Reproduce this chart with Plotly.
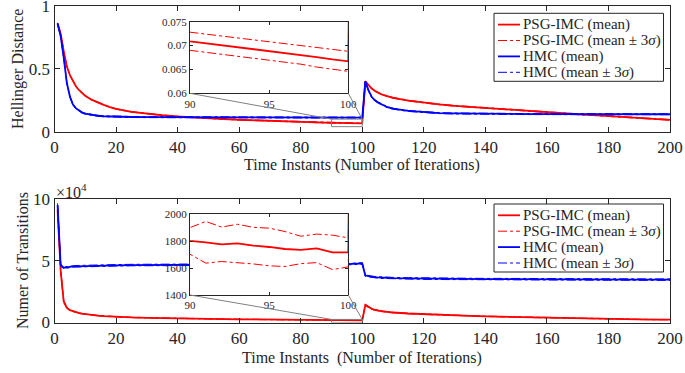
import plotly.graph_objects as go

W, H = 685, 373
OFF = 0  # body margin is removed by the post script below

# ---------------- data ----------------
X = [1, 2, 3, 4, 5, 6, 7, 8, 9, 10,
     12, 14, 16, 18, 20,
     25, 30, 35, 40, 45, 50, 55, 60, 65, 70, 75, 80, 85,
     90, 91, 92, 93, 94, 95, 96, 97, 98, 99, 100,
     101, 102, 103, 104, 105, 106, 107, 108, 109, 110,
     115, 120, 125, 130, 135, 140, 145, 150, 155, 160, 165, 170, 175, 180, 185, 190, 195, 200]

# Hellinger distance
HD_PSG_MEAN = [0.86, 0.78, 0.64, 0.52, 0.45, 0.40, 0.36, 0.33, 0.305, 0.285,
               0.255, 0.232, 0.213, 0.196, 0.181,
               0.158, 0.143, 0.131, 0.121, 0.113, 0.106, 0.100, 0.095, 0.090, 0.086, 0.082, 0.078, 0.074,
               0.0709, 0.0705, 0.0701, 0.0697, 0.0693, 0.0689, 0.0685, 0.0681, 0.0676, 0.0671, 0.0667,
               0.400, 0.370, 0.345, 0.326, 0.311, 0.300, 0.291, 0.283, 0.276, 0.270,
               0.247, 0.230, 0.217, 0.206, 0.197, 0.189, 0.180, 0.171, 0.162, 0.154, 0.146, 0.139,
               0.132, 0.125, 0.117, 0.109, 0.101, 0.094]
HD_PSG_3SIG = [0.004, 0.004, 0.004, 0.003, 0.003, 0.003, 0.003, 0.003, 0.003, 0.003,
               0.003, 0.003, 0.002, 0.002, 0.002,
               0.002, 0.002, 0.002, 0.002, 0.002, 0.002, 0.002, 0.002, 0.002, 0.002, 0.002, 0.002, 0.002,
               0.0019, 0.0019, 0.0019, 0.0020, 0.0020, 0.0020, 0.0020, 0.0020, 0.0021, 0.0021, 0.0021,
               0.004, 0.004, 0.003, 0.003, 0.003, 0.003, 0.003, 0.003, 0.003, 0.003,
               0.003, 0.003, 0.003, 0.003, 0.003, 0.003, 0.003, 0.003, 0.003, 0.003, 0.003, 0.003,
               0.003, 0.003, 0.003, 0.003, 0.003, 0.003]
HD_HMC_MEAN = [0.86, 0.76, 0.59, 0.39, 0.28, 0.215, 0.185, 0.165, 0.152, 0.143,
               0.133, 0.127, 0.123, 0.121, 0.119,
               0.117, 0.116, 0.116, 0.115, 0.115, 0.115, 0.114, 0.114, 0.114, 0.114, 0.113, 0.113, 0.113,
               0.113, 0.112, 0.113, 0.113, 0.112, 0.113, 0.112, 0.112, 0.113, 0.112, 0.112,
               0.400, 0.330, 0.280, 0.252, 0.234, 0.220, 0.207, 0.197, 0.189, 0.183,
               0.165, 0.154, 0.148, 0.145, 0.143, 0.142, 0.141, 0.141, 0.140, 0.140, 0.140, 0.140,
               0.140, 0.139, 0.139, 0.139, 0.139, 0.139]
HD_HMC_3SIG = [0.006, 0.006, 0.005, 0.005, 0.005, 0.004, 0.004, 0.004, 0.004, 0.004,
               0.004, 0.004, 0.004, 0.004, 0.004,
               0.004, 0.004, 0.004, 0.004, 0.004, 0.004, 0.004, 0.004, 0.004, 0.004, 0.004, 0.004, 0.004,
               0.004, 0.004, 0.004, 0.004, 0.004, 0.004, 0.004, 0.004, 0.004, 0.004, 0.004,
               0.006, 0.005, 0.005, 0.004, 0.004, 0.004, 0.004, 0.004, 0.004, 0.004,
               0.004, 0.004, 0.004, 0.004, 0.004, 0.004, 0.004, 0.004, 0.004, 0.004, 0.004, 0.004,
               0.004, 0.004, 0.004, 0.004, 0.004, 0.004]

# Number of transitions
NT_PSG_MEAN = [91000, 42000, 17000, 12000, 10000, 9000, 8200, 7600, 7100, 6700,
               6100, 5600, 5200, 4900, 4600,
               4100, 3800, 3500, 3300, 3100, 2900, 2750, 2600, 2450, 2300, 2200, 2100, 1950,
               1802, 1792, 1777, 1784, 1767, 1757, 1742, 1735, 1747, 1717, 1717,
               14200, 12500, 11200, 10300, 9700, 9300, 8900, 8600, 8300, 8100,
               7300, 6700, 6200, 5800, 5400, 5000, 4700, 4400, 4100, 3800, 3500, 3300,
               3100, 2900, 2700, 2500, 2400, 2300]
NT_PSG_3SIG = [3000, 2000, 800, 500, 400, 300, 300, 250, 250, 200,
               200, 200, 180, 180, 170,
               160, 150, 150, 150, 140, 140, 130, 130, 120, 120, 110, 110, 100,
               99, 155, 128, 142, 136, 140, 130, 102, 106, 128, 108,
               600, 500, 400, 350, 300, 300, 250, 250, 250, 250,
               220, 200, 200, 200, 190, 190, 180, 180, 170, 170, 160, 160,
               150, 150, 150, 140, 140, 140]
NT_HMC_MEAN = [95000, 46500, 44300, 44800, 45200, 45400, 45500, 45600, 45700, 45800,
               45900, 46000, 46100, 46200, 46300,
               46500, 46600, 46700, 46800, 46800, 46900, 46900, 47000, 47000, 47100, 47100, 47200, 47200,
               47300, 47200, 47300, 47400, 47300, 47200, 47400, 47300, 47300, 47500, 47800,
               38000, 37400, 37000, 36700, 36500, 36300, 36200, 36100, 36000, 35900,
               35700, 35500, 35400, 35300, 35200, 35100, 35100, 35000, 35000, 34900, 34900, 34900,
               34800, 34800, 34800, 34700, 34700, 34700]
NT_HMC_3SIG = [1500, 900, 700, 600, 600, 600, 600, 600, 600, 600,
               600, 600, 600, 600, 600,
               600, 600, 600, 600, 600, 600, 600, 600, 600, 600, 600, 600, 600,
               600, 600, 600, 600, 600, 600, 600, 600, 600, 600, 600,
               700, 600, 600, 600, 600, 600, 600, 600, 600, 600,
               600, 600, 600, 600, 600, 600, 600, 600, 600, 600, 600, 600,
               600, 600, 600, 600, 600, 600]

X_TICKS = [0, 20, 40, 60, 80, 100, 120, 140, 160, 180, 200]
HD_TICKS = [0, 0.5, 1]
HD_TICKTEXT = ["0", "0.5", "1"]
NT_TICKS = [0, 50000, 100000]
NT_TICKTEXT = ["0", "5", "10"]
INSET_X_TICKS = [90, 95, 100]
HD_INSET_TICKS = [0.06, 0.065, 0.07, 0.075]
HD_INSET_TICKTEXT = ["0.06", "0.065", "0.07", "0.075"]
NT_INSET_TICKS = [1400, 1600, 1800, 2000]

LEGEND_LABELS = ["PSG-IMC (mean)", "PSG-IMC (mean ± 3<i>σ</i>)",
                 "HMC (mean)", "HMC (mean ± 3<i>σ</i>)"]
X_TITLE_TOP = "Time Instants (Number of Iterations)"
X_TITLE_BOT = "Time Instants\u00a0 (Number of Iterations)"
Y_TITLE_TOP = "Hellinger Distance"
Y_TITLE_BOT = "Numer of Transitions"

# ---------------- styling / layout ----------------
RED = "#ff0000"
BLUE = "#0000ff"
AX = "#262626"
GREY = "#808080"
FONT = "Liberation Serif"

# positions in window pixels
MAIN_X = (54.5, 670.0)
TOP_Y = (6.0, 131.7)
BOT_Y = (199.0, 322.5)
INS_X = (190.0, 348.3)
TOP_INS_Y = (21.7, 93.3)
BOT_INS_Y = (214.3, 295.0)

def pxx(p):
    return (p - OFF) / W

def pxy(p):
    return 1 - (p - OFF) / H

def xd(p):
    return [pxx(p[0]), pxx(p[1])]

def yd(p):
    return [pxy(p[1]), pxy(p[0])]

fig = go.Figure()

def add_series(mean, sig, color, xa, ya):
    up = [m + s for m, s in zip(mean, sig)]
    lo = [m - s for m, s in zip(mean, sig)]
    for yv, dash, wdt in ((up, "dashdot", 1), (lo, "dashdot", 1), (mean, "solid", 1.8)):
        fig.add_trace(go.Scatter(x=X, y=yv, mode="lines", showlegend=False, hoverinfo="skip",
                                 line=dict(color=color, width=wdt, dash=dash),
                                 xaxis=xa, yaxis=ya))

# top main
add_series(HD_PSG_MEAN, HD_PSG_3SIG, RED, "x", "y")
add_series(HD_HMC_MEAN, HD_HMC_3SIG, BLUE, "x", "y")
# top inset
add_series(HD_PSG_MEAN, HD_PSG_3SIG, RED, "x2", "y2")
# bottom main
add_series(NT_PSG_MEAN, NT_PSG_3SIG, RED, "x3", "y3")
add_series(NT_HMC_MEAN, NT_HMC_3SIG, BLUE, "x3", "y3")
# bottom inset
add_series(NT_PSG_MEAN, NT_PSG_3SIG, RED, "x4", "y4")

def ax(domain, rng, tickvals, ticktext=None, size=17, ticklen=5, anchor=None):
    d = dict(domain=domain, range=rng, tickvals=tickvals, showgrid=False, zeroline=False,
             showline=True, linecolor=AX, linewidth=1, mirror="allticks",
             ticks="inside", ticklen=ticklen, tickwidth=1, tickcolor=AX, automargin=False,
             ticklabeloverflow="allow",
             tickfont=dict(family=FONT, size=size, color=AX), anchor=anchor)
    if ticktext is not None:
        d["ticktext"] = ticktext
    return d

fig.update_layout(
    width=W, height=H, margin=dict(l=0, r=0, t=0, b=0, autoexpand=False),
    paper_bgcolor="white", plot_bgcolor="white", showlegend=False,
    xaxis=ax(xd(MAIN_X), [0, 200], X_TICKS, anchor="y"),
    yaxis=ax(yd(TOP_Y), [0, 1], HD_TICKS, HD_TICKTEXT, anchor="x"),
    xaxis2=ax(xd(INS_X), [90, 100], INSET_X_TICKS, size=11, ticklen=3, anchor="y2"),
    yaxis2=ax(yd(TOP_INS_Y), [0.06, 0.075], HD_INSET_TICKS, HD_INSET_TICKTEXT, size=11, ticklen=3, anchor="x2"),
    xaxis3=ax(xd(MAIN_X), [0, 200], X_TICKS, anchor="y3"),
    yaxis3=ax(yd(BOT_Y), [0, 100000], NT_TICKS, NT_TICKTEXT, anchor="x3"),
    xaxis4=ax(xd(INS_X), [90, 100], INSET_X_TICKS, size=11, ticklen=3, anchor="y4"),
    yaxis4=ax(yd(BOT_INS_Y), [1400, 2000], NT_INSET_TICKS, size=11, ticklen=3, anchor="x4"),
)

# zoom boxes & connectors
ZOOM_TOP = (90, 100, 0.04, 0.10)
ZOOM_BOT = (90, 100, 0, 2500)

def to_paper(xv, yv, yrng, ypx):
    dx = xd(MAIN_X)
    dy = yd(ypx)
    px = dx[0] + (xv - 0) / 200 * (dx[1] - dx[0])
    py = dy[0] + (yv - yrng[0]) / (yrng[1] - yrng[0]) * (dy[1] - dy[0])
    return px, py

shapes = []
for (x0, x1, y0, y1), xr, yr, yrng, ypx, ins_y in (
        (ZOOM_TOP, "x", "y", (0, 1), TOP_Y, TOP_INS_Y),
        (ZOOM_BOT, "x3", "y3", (0, 100000), BOT_Y, BOT_INS_Y)):
    shapes.append(dict(type="rect", xref=xr, yref=yr, x0=x0, x1=x1, y0=y0, y1=y1,
                       line=dict(color=GREY, width=1), layer="above"))
    ix = xd(INS_X)
    iy = yd(ins_y)[0]
    for ixv, zx in ((ix[0], x0), (ix[1], x1)):
        px, py = to_paper(zx, y1, yrng, ypx)
        shapes.append(dict(type="line", xref="paper", yref="paper", x0=ixv, y0=iy, x1=px, y1=py,
                           line=dict(color=GREY, width=1), layer="above"))

annotations = []
# manual legends
LEG_STYLES = [(RED, "solid", 1.8), (RED, "dashdot", 1), (BLUE, "solid", 1.8), (BLUE, "dashdot", 1)]
for top in (13.3, 204.0):
    box_y0, box_y1 = top, top + 68
    shapes.append(dict(type="rect", xref="paper", yref="paper",
                       x0=pxx(494), x1=pxx(663.5), y0=pxy(box_y1), y1=pxy(box_y0),
                       line=dict(color=AX, width=1), fillcolor="white", layer="above"))
    for i, (lab, (c, dsh, wd)) in enumerate(zip(LEGEND_LABELS, LEG_STYLES)):
        ry = top + 11.3 + 15.9 * i
        shapes.append(dict(type="line", xref="paper", yref="paper",
                           x0=pxx(498), x1=pxx(520), y0=pxy(ry), y1=pxy(ry),
                           line=dict(color=c, width=wd, dash=dsh), layer="above"))
        annotations.append(dict(text=lab, x=pxx(521), y=pxy(ry), xref="paper", yref="paper",
                                xanchor="left", yanchor="middle", showarrow=False,
                                font=dict(family=FONT, size=15, color=AX)))

# axis titles
for txt, xp, yp, ang in ((X_TITLE_TOP, 362, 165, 0), (X_TITLE_BOT, 362, 358, 0),
                         (Y_TITLE_TOP, 18, 69, -90), (Y_TITLE_BOT, 22.5, 260.5, -90)):
    annotations.append(dict(text=txt, x=pxx(xp), y=pxy(yp), xref="paper", yref="paper",
                            xanchor="center", yanchor="middle", showarrow=False, textangle=ang,
                            font=dict(family=FONT, size=16, color=AX)))
annotations.append(dict(text="×10<sup>4</sup>", x=pxx(54), y=pxy(191), xref="paper", yref="paper",
                        xanchor="left", yanchor="middle", showarrow=False,
                        font=dict(family=FONT, size=16, color=AX)))

fig.update_layout(shapes=shapes, annotations=annotations)
fig.write_html("out.html", config={"displayModeBar": False, "staticPlot": True},
               post_script="document.body.style.margin='0';document.body.style.padding='0';")
